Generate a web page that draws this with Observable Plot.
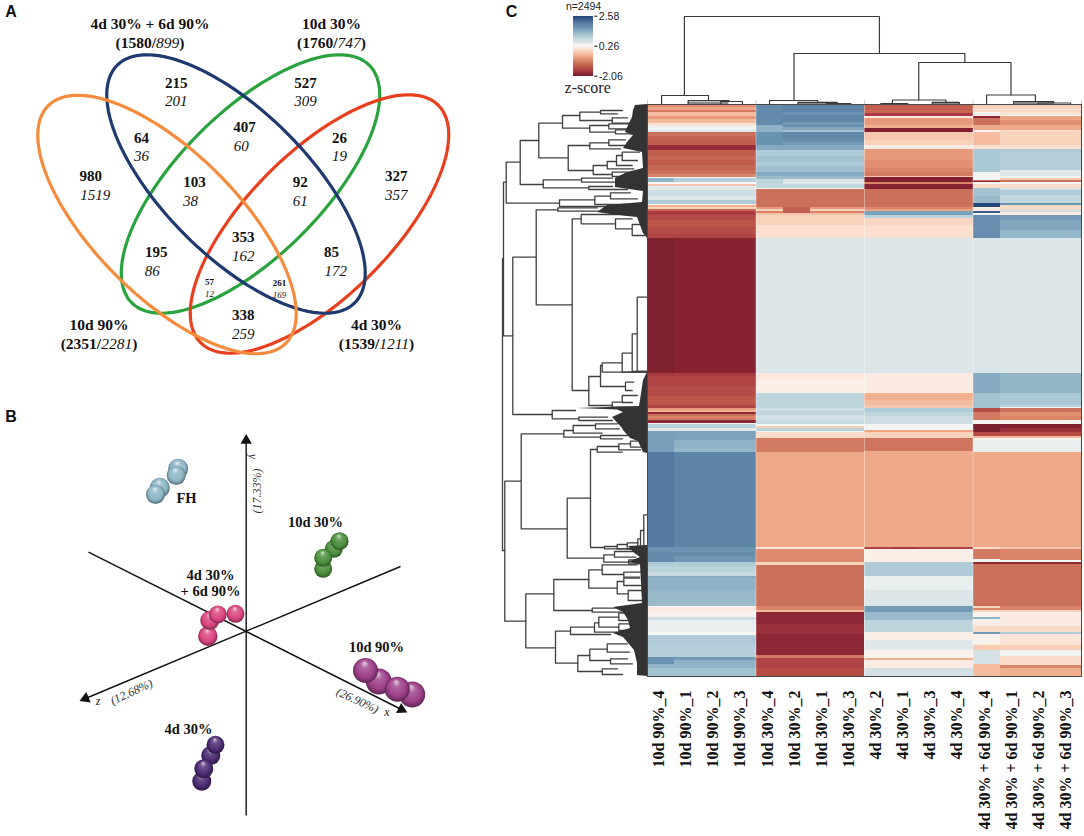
<!DOCTYPE html>
<html><head><meta charset="utf-8">
<script src="https://cdn.jsdelivr.net/npm/d3@7"></script>
<script src="https://cdn.jsdelivr.net/npm/@observablehq/plot@0.6"></script>
<style>html,body{margin:0;padding:0;background:#fff}#root{position:relative;width:1084px;height:836px;overflow:hidden}#root svg{position:absolute;max-width:none;background:transparent}</style>
</head><body><div id="root"></div>
<script>
// ---------- Panel A: Venn ----------
const vennSets = ["10d 30%","4d 30%","4d 30% + 6d 90%","10d 90%"];
const vennColors = ["#2aa33f","#e8401f","#1f3a6e","#f58b3c"];
const vennCx = [250,319,235.5,166.5];
const vennCy = [183.5,223.5,183.5,224];
const vennTilt = [-45,-45,45,45];
const vennRx = [168,168,168,168];
const vennRy = [72,72,72,72];
const vennUp = ["215","527","64","407","26","980","103","92","327","195","353","85","338"];
const vennDown = ["201","309","36","60","19","1519","38","61","357","86","162","172","259"];
const vennUpX = [175.7,305,141,244,339,90.3,194,299.7,395.7,155.7,242.7,331,242.7];
const vennDownX = [175.7,305,141,240.7,339,94.7,190,299.7,395.7,151.7,242.7,335.3,242.7];
const vennUpY = [82.3,82.3,137.3,126.7,137.3,175.7,181.7,181.7,175.7,251.7,236.7,251.7,315];
const vennDownY = [101,101,156,145.3,156,194.3,200.3,200.3,194.3,270.3,255.7,270.3,333.7];
const smallUp = ["57","261"], smallDown = ["12","169"];
const smallX = [209,279], smallUpY = [281.7,282.7], smallDownY = [293.7,294.3];
const outerNames = ["4d 30% + 6d 90%","10d 30%","10d 90%","4d 30%"];
const outerCounts = ["(1580/899)","(1760/747)","(2351/2281)","(1539/1211)"];
const outerX = [149.5,331,98.5,376];
const outerNameY = [23.7,23.7,324.3,324.3];
const outerCountY = [42.7,42.7,343.7,343.7];

// ---------- Panel B: PCA ----------
const pcaGroups = ["FH","10d 30%","pink","10d 90%","4d 30%"];
const pcaBase = ["#8db6c6","#4c8f3c","#d9447f","#9c3f88","#4b2a72"];
const pcaX = [[175.7,155,177.7,159.3],[322.7,333.3,322.7,339],[217.3,235,209.3,207.3],[365,396.7,378.3,411.7],[215,201.3,210.3,203.3]];
const pcaY = [[75,94,68.3,87.3],[168.3,148.3,157.3,140.7],[214,213.3,220,235.7],[270,288.7,281,294],[344.3,380.7,355,368.3]];
const pcaR = [[9.5,9.5,10,10],[9,9,9,9],[9,9,9.5,9.7],[12.5,12.5,13,13],[9,9.5,9.5,9.5]];
const pcaLabels = ["FH","10d 30%","4d 30%","+ 6d 90%","10d 90%","4d 30%"];
const pcaLabelX = [186,315,210,210,376,188];
const pcaLabelY = [98,121.7,175,191.3,246.7,329];
const axisFromX = [245.7,400,88], axisFromY = [415,166,151.7];
const axisToX = [245.7,85,401], axisToY = [40,298,309];
const axisHeadTurn = [0,-112.8,116.6];

// ---------- Panel C: heat map (rows binned; [first bin, z-score]) ----------
const n = 2494, rowBins = 572;
const samples = ["10d 90%_4","10d 90%_1","10d 90%_2","10d 90%_3","10d 30%_4","10d 30%_2","10d 30%_1","10d 30%_3","4d 30%_2","4d 30%_1","4d 30%_3","4d 30%_4","4d 30% + 6d 90%_4","4d 30% + 6d 90%_1","4d 30% + 6d 90%_2","4d 30% + 6d 90%_3"];
const zStops = [-2.06,-1.95,-1.7,-1.4,-1.1,-0.8,-0.55,-0.25,0.05,0.26,0.55,0.95,1.3,1.7,1.95,2.58];
const zColors = ["#7a1f2c","#872232","#a93a41","#bd5549","#cb705a","#e28f72","#eeaa88","#f8cdb5","#fce8dc","#f6f6f4","#dce5e8","#b4cfda","#8fb2c6","#6a92b1","#5a7fa5","#1f3f74"];
const z10d90 = [[0,-0.8],[3,-0.6],[6,-1],[8,-0.4],[12,-0.7],[15,-0.4],[19,0],[22,0.35],[26,0.55],[28,-1.1],[32,-1.25],[36,-1.3],[41,-1.85],[46,-1.3],[52,-1.2],[56,-1.35],[61,-1.2],[66,-1.1],[70,-0.9],[73,0.26],[74,0.95],[78,0.26],[80,-0.3],[82,0.5],[86,0.7],[92,0.55],[96,1],[100,0.3],[101,-0.5],[103,-0.2],[105,-1.2],[107,-1.7],[111,-1.5],[116,-1.4],[123,-1.5],[130,-1.6],[134,-1.95],[269,-1.7],[272,-1.6],[282,-1.5],[292,-1.4],[301,-1.6],[304,-0.7],[306,-0.5],[308,-1.9],[310,-1.1],[312,-0.9],[314,-1],[316,-1.9],[319,0.26],[320,0.9],[324,0.5],[327,1.5],[336,1.3],[344,1.25],[348,1.9],[443,1.7],[448,1.8],[452,1.65],[458,1],[462,0.9],[468,0.75],[472,1.4],[474,1.3],[486,1.2],[502,0.26],[503,0.1],[508,0.2],[513,0.7],[516,0.4],[528,0.26],[531,1],[541,0.95],[553,1.6],[556,1.3],[564,1.1]];
const z10d30 = [[0,1.9],[8,1.7],[11,1.85],[18,1.6],[21,1.75],[23,1.45],[26,1.1],[28,1.85],[34,1.75],[38,1.6],[41,1.4],[46,1],[52,1.1],[58,1],[62,1.15],[68,1.4],[72,1.2],[75,0.55],[80,0.8],[84,0.26],[85,-1.1],[103,-0.7],[105,-0.2],[107,-0.9],[109,-0.35],[111,-0.2],[121,-0.05],[134,0.55],[269,0.05],[276,0.15],[289,0.85],[304,0.7],[307,0.85],[311,0.65],[316,0.75],[320,0.26],[322,-0.25],[324,0.9],[327,0.3],[328,-0.1],[334,-1],[348,-0.55],[443,0],[445,-0.85],[458,-0.2],[461,-1.1],[502,-0.9],[506,-0.4],[508,-1.9],[520,-1.8],[530,-1.9],[551,-1],[554,-1.6],[564,-1.5]];
const z4d30 = [[0,-1.3],[6,-1.2],[9,-1.7],[12,0.1],[14,-0.7],[21,-0.5],[24,-2],[28,-0.3],[36,-0.2],[41,0.1],[45,-0.7],[56,-0.8],[64,-0.9],[68,-1],[72,-0.3],[73,-2],[78,-0.9],[80,-1.95],[85,-1.1],[103,-0.9],[105,-0.6],[107,1.5],[111,0.9],[114,-0.15],[121,-0.05],[134,0.55],[269,0.1],[289,-0.5],[296,-0.4],[301,-0.3],[304,1],[308,0.85],[312,0.7],[320,0.3],[326,-0.6],[328,-0.2],[334,-1.05],[347,-0.55],[443,-1.6],[445,0.15],[458,1],[472,0.4],[486,0.55],[502,1.6],[508,1.2],[516,0.85],[528,0.15],[536,0.5],[546,0.2],[554,-0.5],[556,0.1],[564,0.65]];
const zCombo = [[0,-0.2],[4,-0.1],[8,0],[11,0.26],[12,-0.6],[16,-0.8],[21,-0.55],[26,-0.1],[28,-0.2],[41,-0.05],[45,1],[48,0.95],[66,0.5],[72,0.3],[74,-0.3],[76,-1.1],[78,0.3],[80,-0.1],[84,0.6],[86,1],[91,0.8],[99,1.7],[101,-0.1],[106,0.7],[108,0.1],[111,1.6],[116,1.45],[126,1.25],[134,0.55],[269,1.25],[289,1.05],[301,0.9],[303,0.3],[304,-1.1],[308,-0.8],[312,-0.9],[316,0.2],[319,0.26],[320,-2],[324,-1.8],[328,-1.5],[332,-0.4],[334,0.2],[336,0.4],[348,-0.55],[443,-0.3],[445,-0.9],[456,0.26],[458,-1.9],[460,-1.1],[502,-0.9],[506,-0.2],[508,0.1],[522,-0.1],[528,1],[530,0],[541,-0.25],[546,0.3],[552,-0.1],[561,-0.9],[564,-0.5]];
// single-replicate departures: [sample index, first bin, end bin, z]
const replicateCells = [[0,74,78,1.3],[0,134,269,-2.02],[0,329,348,1.55],[0,348,443,2.0],[0,452,458,1.8],[0,553,560,1.7],
[4,0,21,1.8],[4,21,28,1.3],[4,28,41,1.7],[4,75,80,0.85],[5,103,109,-1.3],[9,443,445,-1.7],
[12,8,10,0.3],[12,12,14,-1.9],[12,14,21,-1.1],[12,26,28,0.2],[12,28,41,-0.4],[12,45,68,1.05],[12,68,76,0.3],[12,77,78,-1.9],[12,84,92,1.1],[12,92,99,1.2],[12,99,103,2.5],[12,103,107,0.1],[12,107,109,2.3],[12,109,111,0.3],[12,111,134,1.75],[12,269,289,1.4],[12,289,304,1.1],[12,304,308,-1.5],[12,308,316,-1],[12,320,328,-2.06],[12,443,445,-0.1],[12,445,455,-1],[12,455,458,0.3],[12,502,504,-0.15],[12,508,518,0.2],[12,513,515,1.3],[12,528,530,1.6],[12,530,540,0.2],[12,546,560,0.6],[12,560,572,-0.4]];

// sample dendrogram: [left leaf pos, right leaf pos, merge height, left child height, right child height]
const colTree = [[1.36,8.55,88,9,51],[5.4,11.7,51,4,42],[10,13.4,42,4.5,9.5],[0.52,2.25,9,0,4],[1.5,3,4,0,3],[2.7,3.5,3,0,0],[4.5,6.27,4,0,2],[5.55,7,2,0,1],[6.6,7.5,1,0,0],[9.03,11,4.5,1,2],[8.6,9.6,1,0,0],[10.5,11.5,2,0,0],[12.5,14.3,9.5,0,3],[13.5,14.97,3,0,1.5],[14.4,15.6,1.5,0,0]];
// unresolved low merges along the sample dendrogram: [from, to]
const colTreeBlur = [[1.5,3],[5.55,7],[10.5,11.5],[13.5,14.97]];
const sampleGroupEdges = [0,4,8,12,16];
// gene dendrogram: [merge depth, upper bin, lower bin, upper child depth, lower child depth]
const rowTree = [[145,154,446,144,142.7],[144,77.7,231.3,141.3,134.7],[141.3,57.7,98.7,127.3,88],[127.3,36,80,108.7,104.3],[108.7,18.7,53.3,85,79.3],[85,11,23.7,67.7,57.7],[67.7,7.7,16,47,35.3],[57.7,21,27.7,38.7,32],[47,6,9.3,25,30],[35.3,13.3,18.7,20,15],[38.7,19.3,24.3,18,14],[32,25.3,29.3,14,10],[79.3,41,66,57.7,54.3],[57.7,38.3,44.3,38.7,27],[38.7,35.3,41,22,14],[54.3,61,70,40.3,35.3],[40.3,57,64.3,31,13.7],[31,51,61,25.3,15.3],[25.3,47.7,56,8,10],[35.3,67.7,72,20,12],[104.3,75.3,83.3,66,58.7],[66,73.7,77.7,35,25],[58.7,82,85,35,20],[88,95.3,102,52.7,30],[52.7,91.7,100,37,14],[37,88.3,94.3,17,10],
[134.7,152.7,310,111.3,95.3],[111.3,105.3,200.3,89.7,75.3],[89.7,103.3,106.7,50,40],[75.3,114.3,286,66.3,58.7],[66.3,110,119.3,30.3,32],[32,114.3,124.3,15.3,15.3],[15.3,120,131,4,3],[58.7,272,301,47,35.3],[47,261,282,45.3,22],[45.3,258.3,267.7,25.3,0],[25.3,248.7,267.7,15.3,0],[15.3,229.3,267,10.3,0],[10.3,192.7,267,0.3,0],[22,277.7,286,13.7,15.3],[35.3,297.7,302.7,25.3,7],[25.3,291,298,10,15],[95.3,306,314.3,72,68.7],[68.7,312.7,316,40,35],
[142.7,376.7,516.7,126.3,121.7],[126.3,329.3,424.3,83.7,80.3],[83.7,326,332.7,74.3,47],[74.3,321,328.7,52,45.3],[52,319.3,324.3,30,28],[47,331,334.3,20,25],[80.3,393.7,453.7,57,43.7],[57,345,443,50.3,43],[50.3,342,347.7,28.7,25.3],[28.7,339.3,345.3,17,7],[17,336.7,342.7,8,5],[43,442,444.3,30.3,0],[30.3,440,444.3,20.3,0],[20.3,438.3,444.3,9.7,0],[9.7,434.3,444.3,7,0],[7,426,444.3,3.7,0],[3.7,410.3,444.3,0,0],[43.7,450.3,457.7,33,18.7],[33,447,452.7,15,12],[18.7,455.3,459.3,8,5],
[121.7,489.3,543.3,93.7,92],[93.7,475,506,58.7,55.3],[58.7,465.3,483.7,45.3,30.3],[45.3,460.3,470,10.3,23.7],[23.7,467.7,472.7,5,8],[30.3,477,489.3,23.7,19.3],[23.7,473.7,481,8,7],[19.3,486,496,5,3],[55.3,503.7,507.7,25,20],[92,526.7,558.7,77,69.7],[77,522.7,530,53,37],[53,518.3,527.7,48.7,28.7],[48.7,512.7,522.7,28.7,28.7],[28.7,508.7,516,15,12],[28.7,519.3,526,15,10],[69.7,551,567,57.7,45.3],[57.7,544.7,556,40.3,37],[40.3,539.3,547.7,20,18],[37,554.3,559.3,20,15],[45.3,564.3,570,30,25]];
// dense leaf fans: outline depth per bin, one list per run of unresolved leaves
const fanUpper = [[0,0],[1,12],[6,14],[13,15],[19,18],[28,22],[31,14],[38,20],[44,24],[48,5],[64,4],[68,20],[74,32],[83,32],[87,4],[98,5],[101,40],[108,50],[111,30],[113,10],[129,4],[134,0]];
const fanMiddle = [[268,0],[276,4],[296,7],[302,8],[304,70],[305.5,30],[308,24],[313,35],[324,25],[326,24],[334,17],[337,9],[348,4],[349,0]];
const fanLower = [[441,0],[442,19],[448,14],[453,7],[458,20],[460,7],[499,5],[503,34],[508,24],[516,19],[524,17],[529,34],[533,24],[546,13],[559,10],[571,10],[572,0]];

// ---------- helpers ----------
const root = document.getElementById("root");
const serif = "'Liberation Serif','Times New Roman',serif";
const sans = "'Liberation Sans',Arial,sans-serif";
function place(svg,left,top){svg.style.left=left+"px";svg.style.top=top+"px";root.appendChild(svg);return svg;}
function pixelPanel(w,h,marks){return Plot.plot({width:w,height:h,margin:0,x:{domain:[0,w],axis:null},y:{domain:[0,h],reverse:true,axis:null},r:{type:"identity"},style:{fontFamily:serif,background:"transparent",overflow:"visible"},marks});}
const rows = a => a.map(([b,z],i)=>({top:b,bottom:i+1<a.length?a[i+1][0]:rowBins,z}));
const colorScale = {type:"linear",domain:zStops,range:zColors,interpolate:"rgb",clamp:true};
const zip = (...cols)=>cols[0].map((_,i)=>cols.map(c=>c[i]));

// ---------- Panel A ----------
const ellipse = i => d3.range(0,361,3).map(t=>{const a=t*Math.PI/180,b=vennTilt[i]*Math.PI/180,u=vennRx[i]*Math.cos(a),v=vennRy[i]*Math.sin(a);return {set:vennSets[i],x:vennCx[i]+u*Math.cos(b)-v*Math.sin(b),y:vennCy[i]+u*Math.sin(b)+v*Math.cos(b),c:vennColors[i]};});
const vennOrder = [0,1,2,3];
const panelA = pixelPanel(490,375,[
  ...vennOrder.map(i=>Plot.line(ellipse(i),{x:"x",y:"y",stroke:vennColors[i],strokeWidth:3.2})),
  Plot.text(vennUp,{x:(d,i)=>vennUpX[i],y:(d,i)=>vennUpY[i],text:d=>d,fontWeight:"bold",fontSize:15,fill:"#111"}),
  Plot.text(vennDown,{x:(d,i)=>vennDownX[i],y:(d,i)=>vennDownY[i],text:d=>d,fontStyle:"italic",fontSize:15,fill:"#111"}),
  Plot.text(smallUp,{x:(d,i)=>smallX[i],y:(d,i)=>smallUpY[i],text:d=>d,fontWeight:"bold",fontSize:9,fill:"#111"}),
  Plot.text(smallDown,{x:(d,i)=>smallX[i],y:(d,i)=>smallDownY[i],text:d=>d,fontStyle:"italic",fontSize:9,fill:"#111"}),
  Plot.text(outerNames,{x:(d,i)=>outerX[i],y:(d,i)=>outerNameY[i],text:d=>d,fontWeight:"bold",fontSize:15.5,fill:"#111"}),
  Plot.text(outerCounts,{x:(d,i)=>outerX[i],y:(d,i)=>outerCountY[i],text:d=>d,fontWeight:"bold",fontSize:15.5,fill:"#111"}),
  Plot.text(["A"],{x:[10.5],y:[11],text:d=>d,fontFamily:sans,fontWeight:"bold",fontSize:16,fill:"#111"})
]);
place(panelA,0,0);
d3.select(panelA).selectAll("text").each(function(){
  const m=/^\((\d+)\/(\d+)\)$/.exec(this.textContent); if(!m) return;
  const t=d3.select(this); t.text("");
  t.append("tspan").text("("+m[1]+"/");
  t.append("tspan").attr("font-style","italic").attr("font-weight","normal").text(m[2]);
  t.append("tspan").text(")");
});

// ---------- Panel B ----------
const pcaDots = g => pcaX[g].map((x,i)=>({x,y:pcaY[g][i],r:pcaR[g][i]}));
const panelB = pixelPanel(490,430,[
  Plot.link(zip(axisFromX,axisFromY,axisToX,axisToY),{x1:d=>d[0],y1:d=>d[1],x2:d=>d[2],y2:d=>d[3],stroke:"#111",strokeWidth:1.4}),
  ...axisHeadTurn.map((a,i)=>Plot.dot([i],{x:d=>axisToX[d],y:d=>axisToY[d],symbol:"triangle",r:4.2,fill:"#111",rotate:a})),
  ...pcaGroups.map((g,i)=>Plot.dot(pcaDots(i),{x:"x",y:"y",r:"r",fill:`url(#sphere${i})`})),
  Plot.text(pcaLabels,{x:(d,i)=>pcaLabelX[i],y:(d,i)=>pcaLabelY[i],text:d=>d,fontWeight:"bold",fontSize:14.5,fill:"#111"}),
  Plot.text(["y"],{x:[252.5],y:[56],text:d=>d,fontStyle:"italic",fontSize:12,rotate:90,fill:"#222"}),
  Plot.text(["(17.33%)"],{x:[256.5],y:[90.5],text:d=>d,fontStyle:"italic",fontSize:12,rotate:-90,fill:"#333"}),
  Plot.text(["z"],{x:[97.5],y:[300.5],text:d=>d,fontStyle:"italic",fontSize:12,fill:"#222"}),
  Plot.text(["(12.68%)"],{x:[131],y:[291.5],text:d=>d,fontStyle:"italic",fontSize:12,rotate:-25,fill:"#333"}),
  Plot.text(["x"],{x:[386.5],y:[311.5],text:d=>d,fontStyle:"italic",fontSize:12,fill:"#222"}),
  Plot.text(["(26.90%)"],{x:[357],y:[300],text:d=>d,fontStyle:"italic",fontSize:12,rotate:25,fill:"#333"}),
  Plot.text(["B"],{x:[10.5],y:[16],text:d=>d,fontFamily:sans,fontWeight:"bold",fontSize:16,fill:"#111"})
]);
place(panelB,0,400);
{
  const defs=d3.select(panelB).append("defs");
  pcaBase.forEach((c,i)=>{
    const base=d3.color(c);
    const g=defs.append("radialGradient").attr("id","sphere"+i).attr("cx","50%").attr("cy","50%").attr("r","52%").attr("fx","46%").attr("fy","18%");
    [[0,d3.interpolateRgb(c,"#fff")(0.75)],[0.3,d3.interpolateRgb(c,"#fff")(0.18)],[0.72,c],[1,base.darker(1.6).formatHex()]].forEach(([o,col])=>g.append("stop").attr("offset",o).attr("stop-color",col));
  });
}

// ---------- Panel C ----------
const cells = samples.flatMap((s,i)=>rows([z10d90,z10d30,z4d30,zCombo][Math.floor(i/4)]).map(r=>({...r,col:i})))
  .concat(replicateCells.map(([col,top,bottom,z])=>({col,top,bottom,z})));
const heat = Plot.plot({width:436,height:732,marginTop:1,marginLeft:1,marginRight:1,marginBottom:159,
  x:{domain:[0,16],axis:null},y:{domain:[0,rowBins],reverse:true,axis:null},color:colorScale,
  style:{fontFamily:serif,background:"transparent"},
  marks:[
    Plot.rect(cells,{x1:"col",x2:d=>d.col+1,y1:"top",y2:"bottom",fill:"z",shapeRendering:"crispEdges"}),
    Plot.ruleX([4,8,12],{stroke:"#fff",strokeWidth:0.7,strokeOpacity:0.55}),
    Plot.frame({stroke:"#4a4a4a",strokeWidth:1}),
    Plot.text(samples,{x:(d,i)=>i+0.42,y:rowBins,dy:14,text:d=>d,rotate:-90,textAnchor:"end",fontWeight:"bold",fontSize:16,fill:"#111"})
  ]});
place(heat,646,103);

const colPaths = colTree.flatMap(([a,b,h,ha,hb],k)=>[{k,x:a,y:ha},{k,x:a,y:h},{k,x:b,y:h},{k,x:b,y:hb}]);
const topTree = Plot.plot({width:436,height:104,marginTop:4,marginBottom:0,marginLeft:1,marginRight:1,
  x:{domain:[0,16],axis:null},y:{domain:[0,100],axis:null},style:{background:"transparent"},
  marks:[
    Plot.rect(colTreeBlur,{x1:d=>d[0],x2:d=>d[1],y1:0,y2:2.5,fill:"#8a8a8a"}),
    Plot.ruleX(sampleGroupEdges,{y1:0,y2:4,stroke:"#bbb",strokeWidth:0.8}),
    Plot.line(colPaths,{x:"x",y:"y",z:"k",stroke:"#3a3a3a",strokeWidth:1.2})
  ]});
place(topTree,646,0);

const rowPaths = rowTree.flatMap(([d,t,b,dt,db],k)=>[{k,x:dt,y:t},{k,x:d,y:t},{k,x:d,y:b},{k,x:db,y:b}]);
const fanPts = [fanUpper,fanMiddle,fanLower].flatMap((f,s)=>f.map(([bin,depth])=>({s,bin,depth})));
const leftTree = Plot.plot({width:147,height:574,margin:1,marginLeft:0,marginRight:0,
  x:{domain:[147,0],axis:null},y:{domain:[0,rowBins],reverse:true,axis:null},style:{background:"transparent"},
  marks:[
    Plot.line(rowPaths,{x:"x",y:"y",z:"k",stroke:"#404040",strokeWidth:1.3}),
    Plot.areaX(fanPts,{y:"bin",x1:0,x2:"depth",z:"s",fill:"#333333"})
  ]});
place(leftTree,500,103);

const zSteps = d3.range(-2.06,2.58,0.04);
const legend = Plot.plot({width:70,height:100,marginLeft:12.8,marginRight:36.7,marginTop:0,marginBottom:0,
  x:{domain:[0,1],axis:null},y:{domain:[-2.06,2.58],range:[75.7,15.7],axis:null},color:colorScale,
  style:{background:"transparent",fontFamily:sans,overflow:"visible"},
  marks:[
    Plot.rect(zSteps,{x1:0,x2:1,y1:d=>d,y2:d=>Math.min(d+0.045,2.58),fill:d=>d,shapeRendering:"crispEdges"}),
    Plot.axisY([2.58,0.26,-2.06],{anchor:"right",tickSize:3,tickPadding:2,fontSize:10.5,label:null,tickFormat:d=>d.toFixed(2),fill:"#222"}),
    Plot.text(["n=2494"],{x:[0.5],y:[3.33],text:()=>"n="+n,fontSize:10.5,fill:"#222"}),
    Plot.text(["z-score"],{x:[0.7],y:[-2.99],text:d=>d,fontFamily:serif,fontSize:16,fill:"#222"})
  ]});
place(legend,560,0);
legend.style.overflow="visible";

const letterC = pixelPanel(40,30,[Plot.text(["C"],{x:[11],y:[11],text:d=>d,fontFamily:sans,fontWeight:"bold",fontSize:16,fill:"#111"})]);
place(letterC,500,0);
</script></body></html>
